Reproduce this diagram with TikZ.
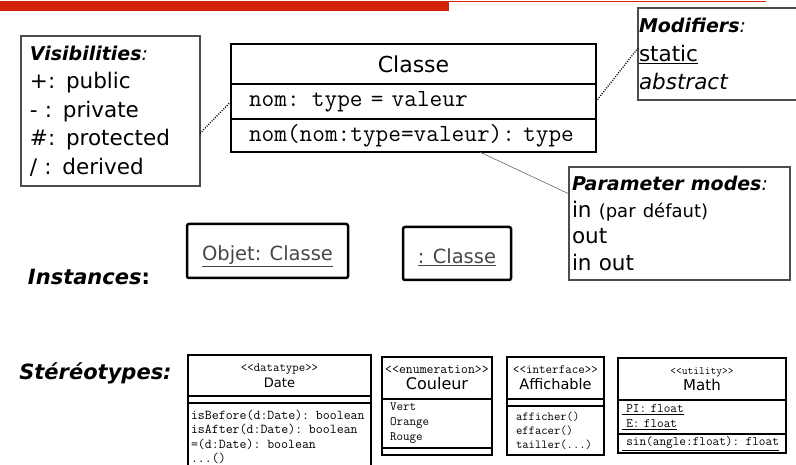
\documentclass[tikz,border=0pt]{standalone}
\usepackage{fontspec}
\setmainfont{DejaVu Sans}
\definecolor{slidered}{RGB}{212,34,6}
\colorlet{notegray}{black!70}
\colorlet{objgray}{black!72}
\newcommand\notehead{\fontsize{19}{28.5}\selectfont\bfseries\itshape}
\newcommand\monobig{\ttfamily\fontsize{24.6}{27}\selectfont}
\newcommand\stereo[1]{\ttfamily\fontsize{#1}{16}\selectfont}
\tikzset{
    every node/.style={inner sep=0pt, outer sep=0pt},
    box/.style n args={3}{text width=#1, minimum height=#2, inner xsep=#3, inner ysep=0pt},
    note/.style={draw=notegray, line width=1.2pt, anchor=north west, align=left,
        font=\fontsize{21.5}{28.5}\selectfont},
    uml/.style={draw, line width=2.6pt, anchor=north west, align=left},
    ster/.style={draw, line width=2pt, anchor=north west, align=left},
    head/.style={align=center, font=\fontsize{12}{16}\selectfont},
    obj/.style={draw, line width=2.5pt, rounded corners=2pt, anchor=north west,
        text height=21pt, text depth=1pt, text=objgray, font=\fontsize{19.5}{24}\selectfont},
    label/.style={font=\fontsize{21}{25}\selectfont\bfseries\itshape},
    notelink/.style={line width=1.3pt, dash pattern=on 1pt off 1.4pt},
    paramlink/.style={draw=black!60, line width=0.6pt}
}

\begin{document}
\begin{tikzpicture}[x=1pt,y=-1pt]
\useasboundingbox (0,0) rectangle (796,465);
\clip (0,0) rectangle (796,465);
\fill[slidered] (0,1) rectangle (449,11);
\draw[slidered, line width=1pt] (449,1.5) -- (766,1.5);

\node[note, box={161pt}{150pt}{9pt}] at (21,36) (vis)
    {{\notehead Visibilities{\mdseries:}}\\+: public\\- : private\\\#: protected\\/ : derived};
\node[note, box={168pt}{92pt}{1pt}] at (638,8) (mod)
    {{\notehead Modifiers{\mdseries:}}\\\underline{static}\\\textit{abstract}};
\node[note, box={215pt}{113pt}{3pt}, font=\fontsize{21.5}{26.5}\selectfont] at (569,167) (par)
    {{\notehead Parameter modes{\mdseries:}}\\in {\fontsize{18}{26}\selectfont(par défaut)}\\out\\in out};

\node[uml, box={329pt}{40pt}{18pt}, align=center, font=\fontsize{22}{26}\selectfont] at (231,44) (clshead) {Classe};
\node[uml, box={329pt}{35pt}{18pt}, font=\monobig] at (clshead.south west) (clsattr) {nom: type = valeur};
\node[uml, box={329pt}{33pt}{18pt}, font=\monobig] at (clsattr.south west) (clsop) {nom(nom:type=valeur):~type};

\draw[notelink] (vis.-14) -- (clsattr.west);
\draw[notelink] (clsattr.east) -- (mod.176);
\draw[paramlink] (clsop.-14) -- (par.165);

\node[label] at (89,277) (insttitle) {Instances{\upshape:}};
\node[obj, minimum width=161pt, minimum height=54pt] at (187,224) (obj1) {\underline{Objet: Classe}};
\node[obj, minimum width=108pt, minimum height=53pt] at (403,227) (obj2) {\underline{: Classe}};

\node[label] at (95.5,373) (stertitle) {Stéréotypes:};

\node[ster, head, box={177pt}{41pt}{3pt}] at (188,355) (datehead)
    {{\stereo{12.5}<<datatype>>}\\{\fontsize{13}{16}\selectfont Date}};
\node[ster, box={177pt}{7pt}{3pt}] at (datehead.south west) (dateattr) {};
\node[ster, box={177pt}{68pt}{3pt}, font=\ttfamily\fontsize{13.5}{14.5}\selectfont] at (dateattr.south west) (dateop)
    {isBefore(d:Date): boolean\\isAfter(d:Date): boolean\\=(d:Date): boolean\\...()};

\node[ster, head, box={104pt}{42pt}{3pt}] at (382,357) (colhead)
    {{\stereo{13.4}<<enumeration>>}\\{\fontsize{16}{16}\selectfont Couleur}};
\node[ster, box={94pt}{49pt}{8pt}, font=\ttfamily\fontsize{12.7}{15}\selectfont] at (colhead.south west) (colattr)
    {Vert\\Orange\\Rouge};
\node[ster, box={104pt}{7pt}{3pt}] at (colattr.south west) (colop) {};

\node[ster, head, box={91pt}{42pt}{3pt}] at (507,357) (affhead)
    {{\stereo{12.7}<<interface>>}\\{\fontsize{14.5}{16}\selectfont Affichable}};
\node[ster, box={91pt}{7pt}{3pt}] at (affhead.south west) (affattr) {};
\node[ster, box={79pt}{49pt}{9pt}, font=\ttfamily\fontsize{12.3}{14}\selectfont] at (affattr.south west) (affop)
    {afficher()\\effacer()\\tailler(...)};

\node[ster, head, box={162pt}{42pt}{3pt}] at (618,358) (mathhead)
    {{\stereo{11.2}<<utility>>}\\{\fontsize{15}{17}\selectfont Math}};
\node[ster, box={160pt}{34pt}{4pt}, font=\ttfamily\fontsize{12.9}{15}\selectfont] at (mathhead.south west) (mathattr)
    {\underline{\ PI: float}\\\underline{\ E: float}};
\node[ster, box={160pt}{19pt}{4pt}, font=\ttfamily\fontsize{12.9}{15}\selectfont] at (mathattr.south west) (mathop)
    {\underline{\ sin(angle:float): float}};
\end{tikzpicture}
\end{document}
